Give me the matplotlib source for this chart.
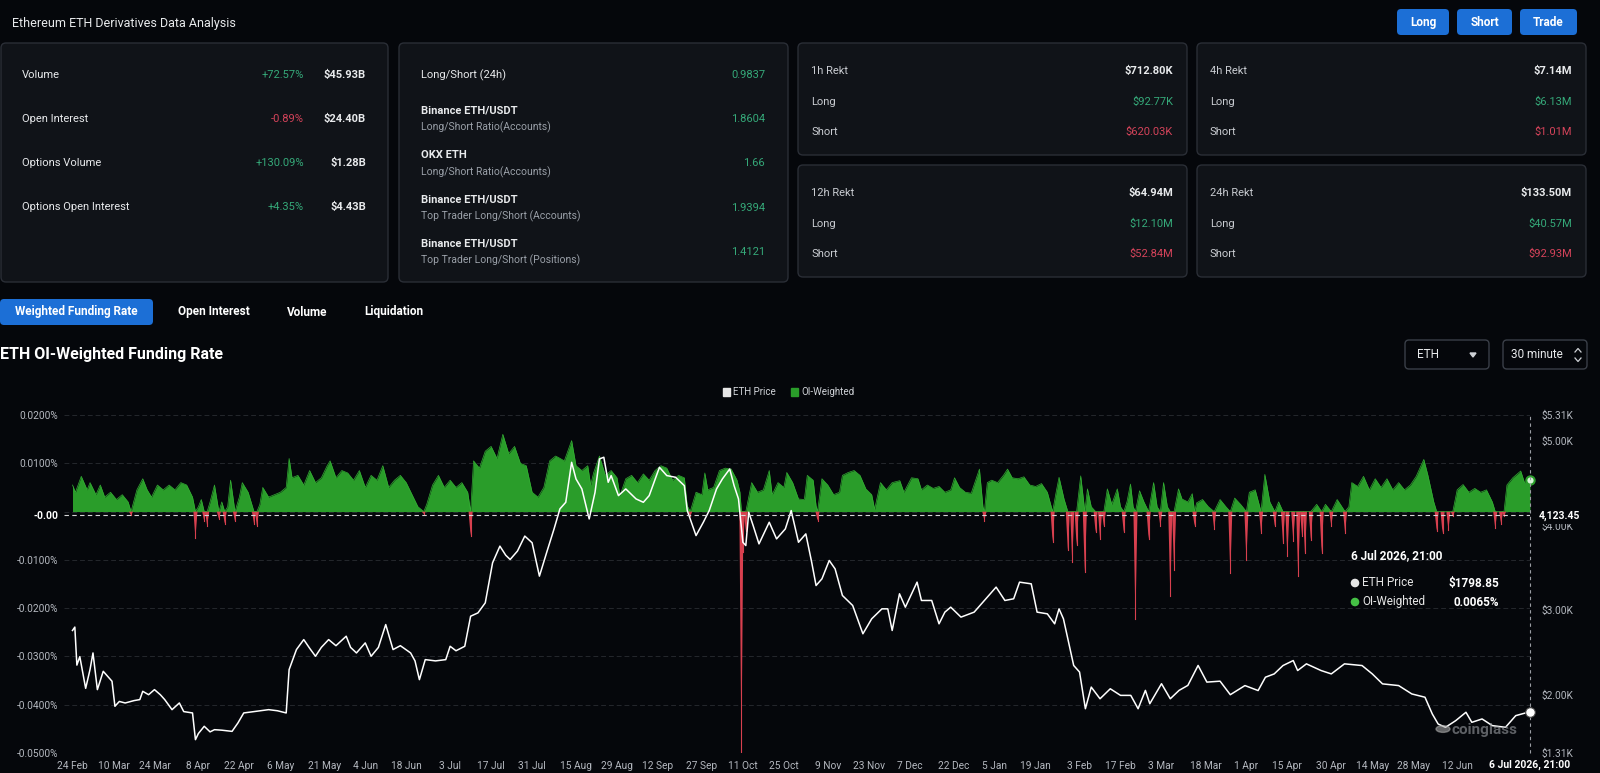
import numpy as np
import pandas as pd
import matplotlib
matplotlib.use('Agg')
import matplotlib.pyplot as plt
from matplotlib.patches import FancyBboxPatch, Rectangle, Circle

plt.rcParams['font.family'] = ['Roboto', 'DejaVu Sans']

# ---------------- data ----------------
start = pd.Timestamp('2025-02-24')

# ETH price, days since 24 Feb 2025
price_days = [0, 0.8, 1.5, 2.5, 4.5, 6, 7, 8.5, 10.5, 13.5, 14.5, 16, 18, 21, 23, 24, 26, 28, 30,
              31.5, 34, 36.5, 38, 41, 42, 43, 45, 47, 48.5, 51, 54.5, 56.5, 58.5, 62, 67, 70, 73,
              74, 76.5, 79, 81, 83, 85, 87.5, 90, 93.5, 95, 97, 100, 102, 104.5, 107, 109.5, 112,
              115.5, 117, 118.5, 120.5, 124, 127.5, 129, 131, 134, 136, 138.5, 141, 143.5, 146,
              148, 149.5, 152, 154.5, 157, 159.5, 162, 164.5, 166.5, 168.5, 170.5, 172, 174,
              176.5, 178.5, 180, 181.5, 183, 184, 186.5, 189, 192.5, 195, 197, 200.5, 203, 206,
              209, 210, 213, 215.5, 217.5, 220, 222, 224.5, 226, 227.5, 229, 230, 231, 232.5,
              234.5, 238, 240.5, 243.5, 245.5, 248, 250.5, 252.5, 254, 256, 258.5, 260.5, 263,
              266.5, 270, 273, 276.5, 278.5, 280, 282.5, 284.5, 288.5, 290, 293.5, 296, 298, 300,
              303.5, 308, 311.5, 315.5, 318.5, 321.5, 323.5, 327.5, 329.5, 333, 335.5, 337,
              338.5, 340.5, 342, 344, 346, 348, 351, 354.5, 358, 361.5, 364, 366.5, 368, 372,
              375, 378, 381, 384.5, 387.5, 392, 395.5, 400.5, 405, 407.5, 410.5, 413.5, 417,
              418.5, 421.5, 426.5, 430, 434.5, 440.5, 444, 447.5, 453, 457.5, 462, 464.5, 466.5,
              469, 472.5, 476, 478, 481.5, 485, 489.5, 493, 497.875]
price_usd = [2760, 2800, 2350, 2450, 2075, 2300, 2494, 2060, 2277, 2159, 1863, 1920, 1902, 1930,
             1942, 2040, 2000, 2060, 2000, 1942, 1823, 1902, 1800, 1784, 1468, 1540, 1626, 1560,
             1586, 1580, 1566, 1665, 1784, 1800, 1823, 1810, 1784, 2297, 2534, 2652, 2550, 2455,
             2560, 2652, 2580, 2692, 2560, 2494, 2613, 2455, 2560, 2830, 2534, 2580, 2494, 2400,
             2178, 2415, 2400, 2415, 2573, 2520, 2573, 2929, 2968, 3087, 3561, 3758, 3650, 3600,
             3700, 3877, 3798, 3403, 3686, 3962, 4199, 4277, 4750, 4553, 4435, 4080, 4395, 4790,
             4810, 4514, 4593, 4356, 4435, 4317, 4277, 4356, 4691, 4593, 4573, 4474, 4179, 3883,
             4041, 4179, 4435, 4553, 4671, 4474, 4317, 3804, 3765, 4159, 4002, 3785, 4041, 3844,
             3962, 4179, 3804, 3903, 3568, 3292, 3371, 3588, 3489, 3174, 3056, 2721, 2898, 3016,
             3016, 2760, 3194, 3036, 3332, 3115, 3115, 2839, 2977, 3036, 2918, 2977, 3115, 3273,
             3115, 3135, 3332, 3312, 2977, 2957, 2839, 3016, 2898, 2583, 2346, 2268, 1834, 2090,
             1952, 2070, 1992, 1992, 1834, 2051, 1893, 2130, 1952, 2051, 2110, 2346, 2149, 2160,
             2000, 2108, 2049, 2207, 2246, 2345, 2404, 2286, 2365, 2286, 2246, 2365, 2345, 2246,
             2128, 2108, 2009, 1970, 1772, 1653, 1614, 1693, 1792, 1673, 1713, 1634, 1614, 1752,
             1798.85]

# OI-weighted funding rate (%), days since 24 Feb 2025
funding_days = [0, 1, 2.5, 3, 5, 6, 8, 9.5, 11, 13, 15, 17, 19, 20, 22, 24, 25.5, 27, 29, 31, 33,
                35, 37, 39, 41, 42, 43, 44, 45, 46, 47, 48.5, 50, 51, 52, 53, 54, 55.5, 57, 58, 60,
                62, 63, 64, 65, 67, 69, 71, 73, 74, 75, 77, 79, 81, 83, 85, 87, 88, 90, 92, 94, 96,
                98, 100, 102, 104, 106, 108, 110, 112, 114, 116, 118, 120, 121, 123, 125, 127, 129,
                131, 133, 135, 136, 137, 139, 141, 143, 145, 147, 149, 151, 153, 155, 157, 159,
                161, 163, 165, 166, 168, 170.5, 172, 174, 176, 177, 178, 180, 182, 184, 186, 187,
                189, 191, 193, 195, 197, 199, 201, 203, 205, 207, 209, 210, 211, 213, 215, 216,
                217, 219, 221, 223, 225, 227, 228, 228.5, 229, 230, 231, 232, 234, 236, 238, 239,
                241, 243, 244, 246, 248, 250, 251, 253, 254, 254.5, 256, 258, 260, 262, 263, 265,
                267, 269, 271, 273, 274, 276, 278, 280, 282.6, 284, 286.6, 288.8, 290, 292, 294,
                296, 298, 300, 301.3, 303, 305, 307, 309.8, 311, 311.5, 312.5, 314, 316, 318,
                319.4, 321, 323, 325, 327, 329, 331, 333, 334.8, 336, 337, 338.7, 340, 341.5, 343,
                344.4, 345.8, 346.7, 348, 349.5, 351, 352.3, 353.5, 355, 356.9, 358, 359.1, 360.2,
                361.4, 362.3, 363.1, 364.5, 366, 367.6, 369.3, 370.5, 371.6, 372.7, 374, 375,
                376.3, 377.8, 379, 381, 382.5, 383.3, 384, 386, 388, 390, 392, 394, 395.5, 397,
                399, 401, 402, 404, 406, 407.3, 409, 410.7, 412, 413.5, 415, 417, 418.7, 420, 421,
                423, 425, 426.7, 428, 430, 432, 434.7, 436, 437, 439, 441, 443, 445, 447, 449, 451,
                453, 455, 457, 459, 461.6, 463, 465, 466, 468, 470, 471.5, 473, 475, 477, 479, 481,
                483, 485, 486, 488, 489, 490, 492, 494.7, 496, 497.875]
funding_pct = [0.0055, 0.004, 0.0065, 0.0073, 0.0045, 0.006, 0.0035, 0.0055, 0.003, 0.004, 0.0025,
               0.0035, 0.002, -0.0008, 0.0045, 0.0068, 0.0045, 0.003, 0.0055, 0.0045, 0.0055,
               0.0045, 0.006, 0.0055, 0.003, -0.0055, 0.001, 0.0025, -0.002, -0.003, 0.002,
               0.0055, -0.0015, 0.002, -0.0025, 0.001, 0.0065, -0.002, 0.003, 0.006, 0.004,
               -0.0025, -0.003, 0.0015, 0.005, 0.003, 0.0035, 0.004, 0.005, 0.011, 0.007, 0.0075,
               0.0055, 0.0085, 0.006, 0.007, 0.0095, 0.0105, 0.007, 0.0085, 0.008, 0.0065, 0.0085,
               0.005, 0.0075, 0.0065, 0.0095, 0.005, 0.0065, 0.0075, 0.006, 0.0035, 0.001,
               -0.0005, 0.0015, 0.0055, 0.0075, 0.005, 0.0065, 0.005, 0.006, 0.004, -0.005,
               0.0105, 0.009, 0.0125, 0.0135, 0.011, 0.016, 0.012, 0.0135, 0.01, 0.0095, 0.004,
               0.003, 0.005, 0.0105, 0.0115, 0.0112, 0.0105, 0.0147, 0.0095, 0.0085, 0.0095,
               0.0055, 0.008, 0.0115, 0.0075, 0.0085, 0.007, 0.0033, 0.0068, 0.0075, 0.006,
               0.0078, 0.0065, 0.0085, 0.0095, 0.009, 0.0065, 0.0075, 0.007, 0.0012, -0.001,
               0.004, 0.0035, 0.008, 0.0045, 0.005, 0.0085, 0.009, 0.0088, 0.0065, 0.004, -0.0498,
               -0.0084, -0.004, 0.003, 0.006, 0.004, 0.0045, 0.0085, 0.0035, 0.006, 0.005, 0.0081,
               0.006, 0.0026, 0.0025, 0.0075, 0.0065, 0.0012, -0.0019, 0.0068, 0.0055, 0.0035,
               0.004, 0.0075, 0.0081, 0.0085, 0.0075, 0.0047, 0.0035, 0.0005, 0.006, 0.0045,
               0.006, 0.0064, 0.004, 0.007, 0.0068, 0.0045, 0.0055, 0.0048, 0.0052, 0.004, 0.0045,
               0.007, 0.005, 0.004, 0.0038, 0.0088, 0.001, -0.0019, 0.006, 0.0065, 0.006, 0.0075,
               0.0088, 0.007, 0.0068, 0.0072, 0.0055, 0.0052, 0.0058, 0.004, -0.0063, 0.004,
               0.0071, 0.0026, -0.008, -0.0105, -0.007, 0.0074, -0.0125, 0.0047, 0.001, -0.0043,
               -0.0057, -0.003, 0.0047, 0.0015, 0.0047, 0.001, -0.0043, 0.002, 0.0057, 0.001,
               -0.0222, 0.0043, 0.002, -0.0057, 0.006, 0.001, -0.003, 0.006, 0.001, -0.0174,
               -0.012, 0.0047, 0.0026, 0.002, 0.0037, -0.003, 0.0018, 0.0025, 0.001, -0.0036,
               0.0025, 0.001, -0.0128, 0.0028, 0.0015, -0.01, 0.004, 0.0045, -0.0044, 0.0077,
               0.002, -0.003, 0.002, -0.0065, -0.0093, -0.006, -0.0134, -0.005, -0.0086, -0.0058,
               0.0015, -0.0086, 0.0015, -0.003, 0.0025, -0.0044, 0.001, 0.006, 0.0052, 0.0073,
               0.0045, 0.0068, 0.005, 0.0068, 0.0045, 0.006, 0.0045, 0.0055, 0.0073, 0.0108,
               0.0075, 0.002, -0.004, -0.0045, -0.0038, -0.001, 0.0045, 0.0056, 0.004, 0.0048,
               0.004, 0.0045, 0.002, -0.0035, -0.0025, -0.001, 0.0055, 0.007, 0.0084, 0.006, 0.0065]

tick_dates = ['2025-02-24', '2025-03-10', '2025-03-24', '2025-04-08', '2025-04-22', '2025-05-06',
              '2025-05-21', '2025-06-04', '2025-06-18', '2025-07-03', '2025-07-17', '2025-07-31',
              '2025-08-15', '2025-08-29', '2025-09-12', '2025-09-27', '2025-10-11', '2025-10-25',
              '2025-11-09', '2025-11-23', '2025-12-07', '2025-12-22', '2026-01-05', '2026-01-19',
              '2026-02-03', '2026-02-17', '2026-03-03', '2026-03-18', '2026-04-01', '2026-04-15',
              '2026-04-30', '2026-05-14', '2026-05-28', '2026-06-12']
left_ticks = [0.02, 0.01, 0.0, -0.01, -0.02, -0.03, -0.04, -0.05]
right_ticks = [5310, 5000, 4000, 3000, 2000, 1310]
right_labels = ['$5.31K', '$5.00K', '$4.00K', '$3.00K', '$2.00K', '$1.31K']

last_day = 497.875
last_time = '6 Jul 2026, 21:00'
last_price = 1798.85
last_funding = 0.0065
cross_price = 4123.45

stat_names = ['Volume', 'Open Interest', 'Options Volume', 'Options Open Interest']
stat_change = ['+72.57%', '-0.89%', '+130.09%', '+4.35%']
stat_value = ['$45.93B', '$24.40B', '$1.28B', '$4.43B']

ratio_titles = ['Long/Short (24h)', 'Binance ETH/USDT', 'OKX ETH', 'Binance ETH/USDT', 'Binance ETH/USDT']
ratio_subs = ['', 'Long/Short Ratio(Accounts)', 'Long/Short Ratio(Accounts)',
              'Top Trader Long/Short (Accounts)', 'Top Trader Long/Short (Positions)']
ratio_values = ['0.9837', '1.8604', '1.66', '1.9394', '1.4121']

rekt_names = ['1h Rekt', '4h Rekt', '12h Rekt', '24h Rekt']
rekt_total = ['$712.80K', '$7.14M', '$64.94M', '$133.50M']
rekt_long = ['$92.77K', '$6.13M', '$12.10M', '$40.57M']
rekt_short = ['$620.03K', '$1.01M', '$52.84M', '$92.93M']

tabs = ['Weighted Funding Rate', 'Open Interest', 'Volume', 'Liquidation']

# ---------------- colours ----------------
BG = '#05070b'
PANEL = '#101318'
EDGE = '#2a2e36'
GREEN = '#2a9d2a'
RED = '#d8404f'
UP = '#35a979'
DOWN = '#d4435a'
BLUE = '#1c6fd6'
GREY = '#9aa0a8'
TXT = '#e8eaec'

W, H = 1600, 773
fig = plt.figure(figsize=(16, 7.73), dpi=100, facecolor=BG)

# page layer in pixel coordinates (y downwards)
pg = fig.add_axes([0, 0, 1, 1], zorder=0)
pg.set_xlim(0, W)
pg.set_ylim(H, 0)
pg.axis('off')
pg.set_facecolor(BG)


def rbox(x0, y0, x1, y1, fc, ec='none', r=4, lw=1.0):
    pg.add_patch(FancyBboxPatch((x0, y0), x1 - x0, y1 - y0,
                                boxstyle=f'round,pad=0,rounding_size={r}',
                                fc=fc, ec=ec, lw=lw))


def t(x, y, s, size=8, color=TXT, ha='left', weight='normal', **kw):
    pg.text(x, y, s, fontsize=size, color=color, ha=ha, va='center', fontweight=weight, **kw)


# header
t(12, 23, 'Ethereum ETH Derivatives Data Analysis', size=9)
for (x0, x1), lab in zip([(1397, 1449), (1457, 1512), (1520, 1577)], ['Long', 'Short', 'Trade']):
    rbox(x0, 9, x1, 35, BLUE, r=4)
    t((x0 + x1) / 2, 22.5, lab, size=8.5, ha='center', weight='bold', color='white')

# panel 1 : market stats
rbox(1, 43, 388, 282, PANEL, EDGE, r=5)
for i, (n, c, v) in enumerate(zip(stat_names, stat_change, stat_value)):
    y = 75 + i * 44
    t(22, y, n, size=8)
    t(304, y, c, size=8, ha='right', color=DOWN if c.startswith('-') else UP)
    t(366, y, v, size=8, ha='right', weight='bold')

# panel 2 : long/short ratios
rbox(399, 43, 788, 282, PANEL, EDGE, r=5)
t(421, 75, ratio_titles[0], size=8)
t(765, 75, ratio_values[0], size=8, ha='right', color=UP)
for i in range(1, 5):
    y = 119 + (i - 1) * 44.3
    t(421, y - 8.5, ratio_titles[i], size=8, weight='bold')
    t(421, y + 8.5, ratio_subs[i], size=7.5, color=GREY)
    t(765, y, ratio_values[i], size=8, ha='right', color=UP)

# panels 3-6 : liquidations
boxes = [(798, 43), (1197, 43), (798, 165), (1197, 165)]
for (bx, by), n, tot, lo, sh in zip(boxes, rekt_names, rekt_total, rekt_long, rekt_short):
    rbox(bx, by, bx + 389, by + 112, PANEL, EDGE, r=5)
    t(bx + 13, by + 28, n, size=8, color='#c9ccd1')
    t(bx + 375, by + 28, tot, size=8, ha='right', weight='bold')
    t(bx + 13, by + 59, 'Long', size=8, color='#c9ccd1')
    t(bx + 375, by + 59, lo, size=8, ha='right', color=UP)
    t(bx + 13, by + 89, 'Short', size=8, color='#c9ccd1')
    t(bx + 375, by + 89, sh, size=8, ha='right', color=DOWN)

# tabs
rbox(0, 299, 153, 325, BLUE, r=4)
for xc, lab in zip([76, 214, 307, 394], tabs):
    t(xc, 312, lab, size=8.5, ha='center', weight='bold', color='white')

# chart title and selectors
t(0, 355, 'ETH OI-Weighted Funding Rate', size=11.5, weight='bold', color='white')
rbox(1405, 340, 1489, 369, 'none', '#3a3f48', r=4)
t(1417, 355, 'ETH', size=8.5)
pg.fill([1470, 1476, 1473], [353, 353, 357], color='#cfd2d6')
rbox(1503, 340, 1587, 369, 'none', '#3a3f48', r=4)
t(1511, 355, '30 minute', size=8.5)
pg.plot([1575, 1578, 1581], [352, 348.5, 352], color='#cfd2d6', lw=0.9)
pg.plot([1575, 1578, 1581], [358, 361.5, 358], color='#cfd2d6', lw=0.9)

# legend
pg.add_patch(Rectangle((723, 388), 7, 8, color='#e6e6e6'))
t(733, 392, 'ETH Price', size=7, color='#d0d3d8')
pg.add_patch(Rectangle((791, 388), 7, 8, color=GREEN))
t(801, 392, 'OI-Weighted', size=7, color='#d0d3d8')

# ---------------- main chart ----------------
x_left, x_right, y_top, y_bot = 64, 1530, 415, 753
ax = fig.add_axes([x_left / W, (H - y_bot) / H, (x_right - x_left) / W, (y_bot - y_top) / H],
                  zorder=2)
ax.set_facecolor('none')
fd = np.array(funding_days)
fv = np.array(funding_pct)
pos = np.clip(fv, 0, None)
ax.fill_between(fd, 0, pos, color=GREEN, lw=0)
ax.plot(fd, pos, color='#33b033', lw=0.5)
# negative readings drawn as thin spikes, like the dense bars of the original
half = 0.7
for d, v in zip(fd, fv):
    if v < 0:
        ax.fill([d - half, d, d + half], [0, v, 0], color=RED, lw=0)
        ax.plot([d, d], [0, v], color=RED, lw=0.8)
ax.set_xlim(-2.9, last_day)
ax.set_ylim(-0.05, 0.02)
ax.set_yticks(left_ticks)
ax.set_yticklabels(['' if v == 0 else f'{v:.4f}%' for v in left_ticks])
ax.grid(axis='y', color='#24272d', lw=0.7, ls=(0, (5, 3)))
ax.set_axisbelow(True)
tick_pos = [(pd.Timestamp(d) - start).days for d in tick_dates]
ax.set_xticks(tick_pos)
ax.set_xticklabels([f'{pd.Timestamp(d).day} {pd.Timestamp(d):%b}' for d in tick_dates])
ax.tick_params(axis='both', length=0, colors='#b4b8bf', labelsize=7.3)
ax.tick_params(axis='x', pad=6)
ax.tick_params(axis='y', pad=4)
for s in ax.spines.values():
    s.set_visible(False)
ax.scatter([last_day], [last_funding], s=36, c='#d8f5d8', edgecolors=GREEN, lw=1.5,
           zorder=6, clip_on=False)

ax2 = ax.twinx()
ax2.plot(price_days, price_usd, color='white', lw=1.1)
ax2.set_ylim(1310, 5310)
ax2.set_yticks(right_ticks)
ax2.set_yticklabels(right_labels)
ax2.tick_params(axis='y', length=0, colors='#b4b8bf', labelsize=7.3, pad=8)
for s in ax2.spines.values():
    s.set_visible(False)
ax2.axhline(cross_price, color='#d6d6d6', lw=0.8, ls=(0, (4, 3)))
ax2.axvline(last_day, color='#9a9da3', lw=0.8, ls=(0, (3, 3)), clip_on=False)
ax2.scatter([last_day], [last_price], s=48, c='white', edgecolors='#444', lw=0.8,
            zorder=6, clip_on=False)

# crosshair labels
fig.text((x_right + 9) / W, 1 - 516 / H, f'{cross_price:,.2f}', fontsize=7.5, color='white',
         fontweight='bold', va='center', ha='left', zorder=10,
         bbox=dict(fc=BG, ec='none', pad=2))
fig.text(59 / W, 1 - 516 / H, '-0.00', fontsize=7.5, color='white', fontweight='bold',
         va='center', ha='right', zorder=10, bbox=dict(fc=BG, ec='none', pad=1.5))
fig.text(x_right / W, 1 - 765 / H, last_time, fontsize=7.5, color='white', fontweight='bold',
         va='center', ha='center', zorder=10, bbox=dict(fc=BG, ec='none', pad=1.5))

# tooltip
fig.text(1351 / W, 1 - 556 / H, last_time, fontsize=8.5, color='white', fontweight='bold',
         va='center', zorder=10)
for y, col, name, val in [(583, '#e6e6e6', 'ETH Price', f'${last_price}'),
                          (602, '#45c045', 'OI-Weighted', f'{last_funding:.4f}%')]:
    pg.add_patch(Circle((1355, y), 3.6, color=col, zorder=10))
    fig.text(1362 / W, 1 - y / H, name, fontsize=8.5, color='#e6e6e6', va='center', zorder=10)
    fig.text(1499 / W, 1 - y / H, val, fontsize=8.5, color='white', fontweight='bold',
             va='center', ha='right', zorder=10)

# watermark
fig.text(1452 / W, 1 - 730 / H, 'coinglass', fontsize=11, color='#9a9da2', alpha=0.6,
         va='center', ha='left', fontweight='bold', zorder=10)
fig.patches.append(Circle((1443 / W, 1 - 729 / H), 7 / W, transform=fig.transFigure,
                          color='#b0b0b0', alpha=0.55, zorder=10))

fig.savefig('out.png', dpi=100, facecolor=BG)
